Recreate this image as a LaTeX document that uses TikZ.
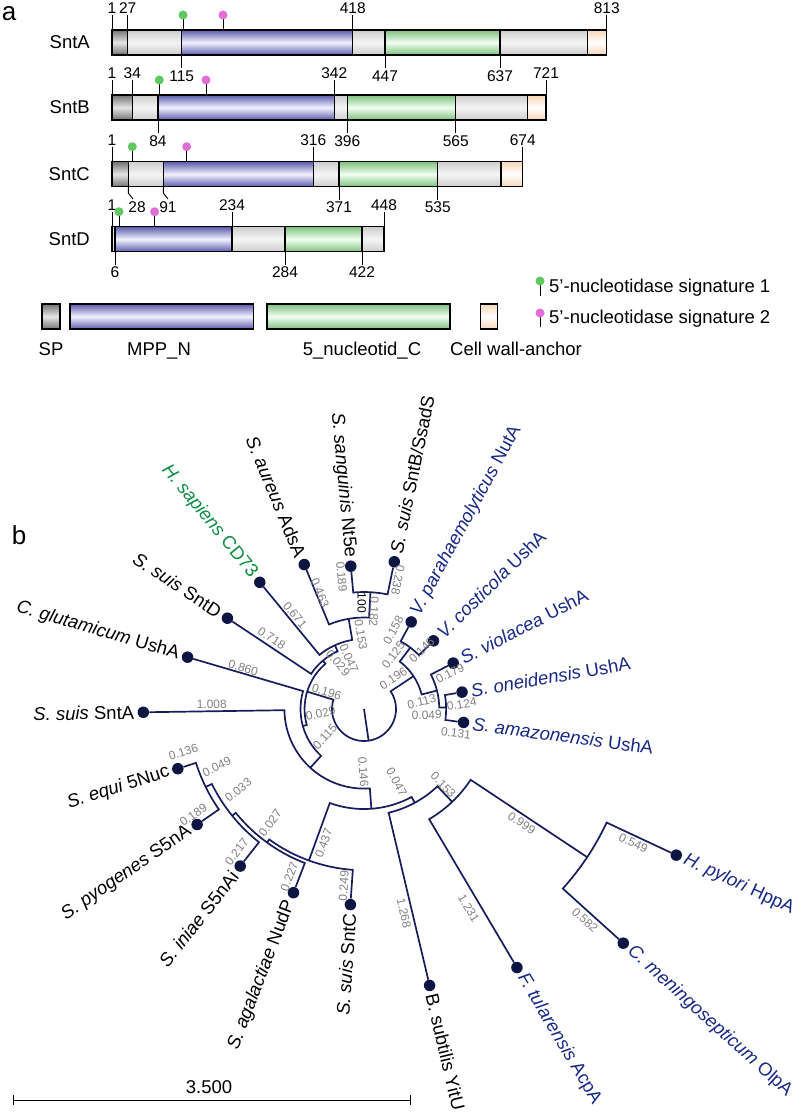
\documentclass[tikz,border=0pt]{standalone}
\usepackage{fontspec}
\setmainfont{Liberation Sans}
\usetikzlibrary{positioning}

\definecolor{treeblue}{RGB}{22,28,92}
\definecolor{dotblue}{RGB}{13,22,66}
\definecolor{gnblue}{RGB}{24,40,135}
\definecolor{hsgreen}{RGB}{10,140,65}
\definecolor{lenGray}{RGB}{128,128,128}
\definecolor{barGray}{RGB}{205,205,205}
\definecolor{spGray}{RGB}{115,115,115}
\definecolor{mppBlue}{RGB}{92,92,172}
\definecolor{ncGreen}{RGB}{125,192,125}
\definecolor{cwPeach}{RGB}{246,214,184}
\definecolor{sigA}{RGB}{95,200,95}
\definecolor{sigB}{RGB}{225,110,215}

\tikzset{
  tick/.style={line width=0.9pt},
  num/.style={inner sep=0pt, font=\fontsize{15.5}{16}\selectfont},
  protname/.style={anchor=east, inner sep=0pt, font=\fontsize{18.5}{20}\selectfont},
  leglab/.style={anchor=base, inner sep=0pt, font=\fontsize{18.5}{20}\selectfont},
  panel/.style={inner sep=0pt, font=\fontsize{26}{28}\selectfont},
  protbar/.style={draw=black, line width=1.1pt, top color=barGray, bottom color=barGray, middle color=white!96!black},
  spdom/.style={draw=black, line width=1.1pt, top color=spGray, bottom color=spGray, middle color=white!90!black},
  mppdom/.style={draw=black, line width=1.1pt, top color=mppBlue, bottom color=mppBlue, middle color=white!95!blue},
  ncdom/.style={draw=black, line width=1.1pt, top color=ncGreen, bottom color=ncGreen, middle color=white!95!green},
  cwdom/.style={draw=black, line width=1.1pt, top color=cwPeach, bottom color=cwPeach, middle color=white},
  treeline/.style={draw=treeblue, line width=1.7pt},
  leafdot/.style={circle, fill=dotblue, inner sep=0pt, minimum size=11.5pt},
  leaflab/.style={inner sep=0pt, font=\fontsize{18.5}{20}\selectfont},
  gramneg/.style={leaflab, text=gnblue},
  blen/.style={inner sep=0pt, text=lenGray, font=\fontsize{12}{12}\selectfont},
  boot/.style={blen, text=black},
}

% tick with number above / below a bar edge
\newcommand{\tickup}[4]{\draw[tick] (#1,#2) -- ++(0,15) node[num, above=1pt] (#4) {#3};}
\newcommand{\tickdn}[4]{\draw[tick] (#1,#2) -- ++(0,-13) node[num, below=2pt] (#4) {#3};}
% signature pin standing on a bar
\newcommand{\sigpin}[3]{\draw[tick] (#1,#2) -- ++(0,15); \fill[#3] (#1,#2) ++(0,15) circle[radius=4.5];}

\begin{document}
\begin{tikzpicture}[x=1pt, y=1pt]
\useasboundingbox (0,0) rectangle (800,-1118);

\node[panel] (pa) at (9,-14) {a};

% SntA
\node[protname] (nameA) at (90,-42.5) {SntA};
\draw[protbar] (112,-30) rectangle (606.7,-55);
\draw[spdom] (112,-30) rectangle (127.7,-55);
\draw[mppdom] (181.7,-30) rectangle (352.7,-55);
\draw[ncdom] (385,-30) rectangle (500,-55);
\draw[cwdom] (587.3,-30) rectangle (606.7,-55);
\tickup{112}{-30}{1}{a1}
\tickup{127.7}{-30}{27}{a27}
\tickup{352.7}{-30}{418}{a418}
\tickup{606.7}{-30}{813}{a813}
\tickdn{181.7}{-55}{115}{a115}
\tickdn{385}{-55}{447}{a447}
\tickdn{500}{-55}{637}{a637}
\sigpin{183}{-30}{sigA}
\sigpin{223}{-30}{sigB}

% SntB
\node[protname] (nameB) at (90,-107.5) {SntB};
\draw[protbar] (112,-95) rectangle (546,-120);
\draw[spdom] (112,-95) rectangle (132.3,-120);
\draw[mppdom] (158,-95) rectangle (334.3,-120);
\draw[ncdom] (347.3,-95) rectangle (455.7,-120);
\draw[cwdom] (527.3,-95) rectangle (546,-120);
\tickup{112}{-95}{1}{b1}
\tickup{132.3}{-95}{34}{b34}
\tickup{334.3}{-95}{342}{b342}
\tickup{546}{-95}{721}{b721}
\tickdn{158}{-120}{84}{b84}
\tickdn{347.3}{-120}{396}{b396}
\tickdn{455.7}{-120}{565}{b565}
\sigpin{159.3}{-95}{sigA}
\sigpin{206}{-95}{sigB}

% SntC
\node[protname] (nameC) at (90,-174) {SntC};
\draw[protbar] (112,-161.7) rectangle (522.7,-186.7);
\draw[spdom] (112,-161.7) rectangle (128.3,-186.7);
\draw[mppdom] (163.3,-161.7) rectangle (313.3,-186.7);
\draw[ncdom] (339,-161.7) rectangle (437.7,-186.7);
\draw[cwdom] (501,-161.7) rectangle (522.7,-186.7);
\tickup{112}{-161.7}{1}{c1}
\tickup{313.3}{-161.7}{316}{c316}
\tickup{522.7}{-161.7}{674}{c674}
\draw[tick] (128.3,-186.7) -- (128.3,-193) -- (133,-199);
\node[num] (c28) at (137,-207) {28};
\draw[tick] (163.3,-186.7) -- (163.3,-193) -- (168,-199);
\node[num] (c91) at (168,-207) {91};
\tickdn{339}{-186.7}{371}{c371}
\tickdn{437.7}{-186.7}{535}{c535}
\sigpin{132.3}{-161.7}{sigA}
\sigpin{186.7}{-161.7}{sigB}

% SntD
\node[protname] (nameD) at (90,-239) {SntD};
\draw[protbar] (112,-226.7) rectangle (384,-251.7);
\draw[mppdom] (115,-226.7) rectangle (232,-251.7);
\draw[ncdom] (285,-226.7) rectangle (362,-251.7);
\tickup{112}{-226.7}{1}{d1}
\tickup{232}{-226.7}{234}{d234}
\tickup{384}{-226.7}{448}{d448}
\tickdn{115}{-251.7}{6}{d6}
\tickdn{285}{-251.7}{284}{d284}
\tickdn{362}{-251.7}{422}{d422}
\sigpin{119}{-226.7}{sigA}
\sigpin{154.6}{-226.7}{sigB}

% legend
\draw[spdom] (42,-304) rectangle (60,-329);
\draw[mppdom] (70,-304) rectangle (253.6,-329);
\draw[ncdom] (267,-304) rectangle (450,-329);
\draw[cwdom] (480.6,-304) rectangle (497.4,-329);
\node[leglab] (legSP) at (51,-355) {SP};
\node[leglab] (legMPP) at (159,-355) {MPP\_N};
\node[leglab] (legNC) at (362,-355) {5\_nucleotid\_C};
\node[leglab] (legCW) at (516,-355) {Cell wall-anchor};
\draw[tick] (540,-296) -- (540,-281);
\fill[sigA] (540,-281) circle[radius=4.5];
\node[leaflab, anchor=west] (legS1) at (549,-288) {5’-nucleotidase signature 1};
\draw[tick] (540,-327) -- (540,-313);
\fill[sigB] (540,-313) circle[radius=4.5];
\node[leaflab, anchor=west] (legS2) at (549,-319) {5’-nucleotidase signature 2};

\node[panel] (pb) at (19,-535) {b};

% tree, centred on the root
\begin{scope}[shift={(364,-709)}]
  \coordinate (ctr) at (0,0);
  \coordinate (root) at (278.3:32);
  \coordinate (z) at (163.03:59.44);
  \coordinate (n4) at (130.47:63.5);
  \coordinate (n3) at (114.55:70.08);
  \coordinate (n2) at (99.66:91.5);
  \coordinate (n1) at (86.83:116.98);
  \coordinate (l2) at (195.59:63.5);
  \coordinate (a) at (227.54:79.6);
  \coordinate (p) at (274.23:100.04);
  \coordinate (q) at (250.01:161.22);
  \coordinate (q1) at (234:165);
  \coordinate (q2) at (219:169.62);
  \coordinate (q3) at (206.24:176.48);
  \coordinate (b) at (298.44:106.62);
  \coordinate (h) at (313.52:128.04);
  \coordinate (hc) at (326.42:267.9);
  \coordinate (v0) at (393.58:59.44);
  \coordinate (vb) at (413:76.94);
  \coordinate (sh) at (374.16:75.26);
  \coordinate (sh2) at (361.05:82.12);

  % leaves
  \node[leafdot] (sntb) at (78.38:150.3) {};
  \node[leafdot] (nt5e) at (95.28:143.44) {};
  \node[leafdot] (adsa) at (112.48:156.32) {};
  \node[leafdot] (cd73) at (129.44:164.02) {};
  \node[leafdot] (sntd) at (146.38:164.02) {};
  \node[leafdot] (cglu) at (163.63:183.9) {};
  \node[leafdot] (snta) at (180.85:220.72) {};
  \node[leafdot] (sequi) at (197.78:195.52) {};
  \node[leafdot] (spyo) at (214.69:202.94) {};
  \node[leafdot] (sini) at (231.76:200) {};
  \node[leafdot] (nudp) at (248.99:196.78) {};
  \node[leafdot] (sntc) at (266.02:196.08) {};
  \node[leafdot] (bsub) at (283.35:284.14) {};
  \node[leafdot] (ftul) at (300.61:300.38) {};
  \node[leafdot] (cmen) at (317.91:349.38) {};
  \node[leafdot] (hpyl) at (334.92:344.76) {};
  \node[leafdot] (samaz) at (352.33:100.46) {};
  \node[leafdot] (sone) at (369.77:99.48) {};
  \node[leafdot] (sviol) at (387.26:100.32) {};
  \node[leafdot] (vcost) at (404.46:97.38) {};
  \node[leafdot] (vpara) at (421.54:99.06) {};

  % clades: radial in, arc, radial out
  \draw[treeline] (sntb) -- (78.38:116.98) arc[start angle=78.38, end angle=95.28, radius=116.98] -- (nt5e);
  \draw[treeline] (n1) -- (86.83:91.5) arc[start angle=86.83, end angle=112.48, radius=91.5] -- (adsa);
  \draw[treeline] (n2) -- (99.66:70.08) arc[start angle=99.66, end angle=129.44, radius=70.08] -- (cd73);
  \draw[treeline] (n3) -- (114.55:63.5) arc[start angle=114.55, end angle=146.38, radius=63.5] -- (sntd);
  \draw[treeline] (cglu) -- (163.63:63.5) arc[start angle=163.63, end angle=227.54, radius=63.5] -- (a);
  \draw[treeline] (n4) -- (130.47:59.44) arc[start angle=130.47, end angle=195.59, radius=59.44] -- (l2);
  \draw[treeline] (snta) -- (180.85:79.6) arc[start angle=180.85, end angle=274.23, radius=79.6] -- (p);
  \draw[treeline] (q) -- (250.01:100.04) arc[start angle=250.01, end angle=298.44, radius=100.04] -- (b);
  \draw[treeline] (q1) -- (234:161.22) arc[start angle=234, end angle=266.02, radius=161.22] -- (sntc);
  \draw[treeline] (q2) -- (219:165) arc[start angle=219, end angle=248.99, radius=165] -- (nudp);
  \draw[treeline] (q3) -- (206.24:169.62) arc[start angle=206.24, end angle=231.76, radius=169.62] -- (sini);
  \draw[treeline] (sequi) -- (197.78:176.48) arc[start angle=197.78, end angle=214.69, radius=176.48] -- (spyo);
  \draw[treeline] (bsub) -- (283.35:106.62) arc[start angle=283.35, end angle=313.52, radius=106.62] -- (h);
  \draw[treeline] (ftul) -- (300.61:128.04) arc[start angle=300.61, end angle=326.42, radius=128.04] -- (hc);
  \draw[treeline] (cmen) -- (317.91:267.9) arc[start angle=317.91, end angle=334.92, radius=267.9] -- (hpyl);
  \draw[treeline] (samaz) -- (352.33:82.12) arc[start angle=352.33, end angle=369.77, radius=82.12] -- (sone);
  \draw[treeline] (sh2) -- (361.05:75.26) arc[start angle=361.05, end angle=387.26, radius=75.26] -- (sviol);
  \draw[treeline] (vcost) -- (404.46:76.94) arc[start angle=404.46, end angle=421.54, radius=76.94] -- (vpara);
  \draw[treeline] (sh) -- (374.16:59.44) arc[start angle=374.16, end angle=413, radius=59.44] -- (vb);
  \draw[treeline] (z) -- (163.03:32) arc[start angle=163.03, end angle=393.58, radius=32] -- (v0);
  \draw[treeline] (ctr) -- (root);

  % leaf names
  \node[leaflab, rotate=78.38, anchor=west] (t-sntb) at (78.38:159.3) {\textit{S. suis} SntB/SsadS};
  \node[leaflab, rotate=-84.72, anchor=east] (t-nt5e) at (95.28:152.4) {\textit{S. sanguinis} Nt5e};
  \node[leaflab, rotate=-67.52, anchor=east] (t-adsa) at (112.48:165.3) {\textit{S. aureus} AdsA};
  \node[leaflab, rotate=-50.56, anchor=east, text=hsgreen] (t-cd73) at (129.44:173) {\textit{H. sapiens} CD73};
  \node[leaflab, rotate=-33.62, anchor=east] (t-sntd) at (146.38:173) {\textit{S. suis} SntD};
  \node[leaflab, rotate=-16.37, anchor=east] (t-cglu) at (163.63:192.9) {\textit{C. glutamicum} UshA};
  \node[leaflab, rotate=0.85, anchor=east] (t-snta) at (180.85:229.7) {\textit{S. suis} SntA};
  \node[leaflab, rotate=17.78, anchor=east] (t-sequi) at (197.78:204.5) {\textit{S. equi} 5Nuc};
  \node[leaflab, rotate=34.69, anchor=east] (t-spyo) at (214.69:211.9) {\textit{S. pyogenes} S5nA};
  \node[leaflab, rotate=51.76, anchor=east] (t-sini) at (231.76:209) {\textit{S. iniae} S5nAi};
  \node[leaflab, rotate=68.99, anchor=east] (t-nudp) at (248.99:205.8) {\textit{S. agalactiae} NudP};
  \node[leaflab, rotate=86.02, anchor=east] (t-sntc) at (266.02:205.1) {\textit{S. suis} SntC};
  \node[leaflab, rotate=283.35, anchor=west] (t-bsub) at (283.35:293.1) {B. subtilis YitU};
  \node[gramneg, rotate=300.61, anchor=west] (t-ftul) at (300.61:309.4) {\textit{F. tularensis} AcpA};
  \node[gramneg, rotate=317.91, anchor=west] (t-cmen) at (317.91:358.4) {\textit{C. meningosepticum} OlpA};
  \node[gramneg, rotate=334.92, anchor=west] (t-hpyl) at (334.92:353.8) {\textit{H. pylori} HppA};
  \node[gramneg, rotate=352.33, anchor=west] (t-samaz) at (352.33:109.5) {\textit{S. amazonensis} UshA};
  \node[gramneg, rotate=9.77, anchor=west] (t-sone) at (369.77:108.5) {\textit{S. oneidensis} UshA};
  \node[gramneg, rotate=27.26, anchor=west] (t-sviol) at (387.26:109.3) {\textit{S. violacea} UshA};
  \node[gramneg, rotate=44.46, anchor=west] (t-vcost) at (404.46:106.4) {\textit{V. costicola} UshA};
  \node[gramneg, rotate=61.54, anchor=west] (t-vpara) at (421.54:108.1) {\textit{V. parahaemolyticus} NutA};
\end{scope}

% branch lengths
\node[blen, rotate=-67.5] (len-adsa) at (320,-593) {0.463};
\node[blen, rotate=-84.7] (len-nt5e) at (341.7,-576.7) {0.189};
\node[blen, rotate=-101.6] (len-sntb) at (398,-580) {0.238};
\node[boot, rotate=-90] (boot-n1) at (361.7,-603) {100};
\node[blen, rotate=-93.2] (len-n1) at (374,-611.7) {0.182};
\node[blen, rotate=-80.3] (len-n2) at (361,-635) {0.153};
\node[blen, rotate=-65.5] (len-n3) at (349,-658) {0.047};
\node[blen, rotate=-49.5] (len-n4) at (338,-663) {0.029};
\node[blen, rotate=-50.6] (len-cd73) at (295,-615) {0.671};
\node[blen, rotate=-33.6] (len-sntd) at (271.7,-638.3) {0.718};
\node[blen, rotate=-16.4] (len-cglu) at (243.3,-667.7) {0.860};
\node[blen, rotate=-17] (len-z) at (326.7,-691.7) {0.196};
\node[blen, rotate=12] (len-l2) at (320.7,-713.3) {0.029};
\node[blen, rotate=47.5] (len-a) at (325,-736.7) {0.115};
\node[blen, rotate=0.85] (len-snta) at (211.7,-704) {1.008};
\node[blen, rotate=61.5] (len-vpara) at (393.3,-630) {0.158};
\node[blen, rotate=53] (len-vb) at (393.3,-655) {0.125};
\node[blen, rotate=33.6] (len-v0) at (393.3,-678.3) {0.196};
\node[blen, rotate=44.5] (len-vcost) at (421.7,-650) {0.146};
\node[blen, rotate=27.3] (len-sviol) at (450,-673.3) {0.179};
\node[blen, rotate=14] (len-sh) at (421.7,-701.7) {0.113};
\node[blen, rotate=10] (len-sone) at (461.7,-704.3) {0.124};
\node[blen, rotate=1] (len-sh2) at (426.7,-715) {0.049};
\node[blen, rotate=-7.7] (len-samaz) at (456,-733.3) {0.131};
\node[blen, rotate=17.8] (len-sequi) at (183.3,-751.7) {0.136};
\node[blen, rotate=26] (len-q3) at (216.7,-766.7) {0.049};
\node[blen, rotate=34.7] (len-spyo) at (193.3,-815) {0.189};
\node[blen, rotate=39] (len-q2) at (238.3,-790) {0.033};
\node[blen, rotate=54] (len-q1) at (270.1,-823.3) {0.027};
\node[blen, rotate=51.8] (len-sini) at (236.6,-851.7) {0.217};
\node[blen, rotate=69] (len-nudp) at (289.3,-876.7) {0.227};
\node[blen, rotate=70] (len-q) at (323.7,-843.3) {0.437};
\node[blen, rotate=86] (len-sntc) at (343.75,-886) {0.249};
\node[blen, rotate=-86] (len-p) at (363.3,-771.7) {0.146};
\node[blen, rotate=-61.6] (len-b) at (396.7,-781.7) {0.047};
\node[blen, rotate=-46.5] (len-h) at (443.3,-785) {0.153};
\node[blen, rotate=-77] (len-bsub) at (404,-913.3) {1.268};
\node[blen, rotate=-59.4] (len-ftul) at (468.75,-908.3) {1.231};
\node[blen, rotate=-33.6] (len-hc) at (521.7,-823.3) {0.999};
\node[blen, rotate=-25] (len-hpyl) at (633.3,-843.3) {0.549};
\node[blen, rotate=-42] (len-cmen) at (585,-920) {0.582};

% scale bar
\coordinate (sbl) at (13.4,-1100);
\coordinate (sbr) at (410.7,-1100);
\draw[tick] (sbl) -- (sbr);
\draw[tick] ([yshift=5]sbl) -- ([yshift=-5]sbl);
\draw[tick] ([yshift=5]sbr) -- ([yshift=-5]sbr);
\node[leaflab] (sblab) at (209,-1087) {3.500};
\end{tikzpicture}
\end{document}
